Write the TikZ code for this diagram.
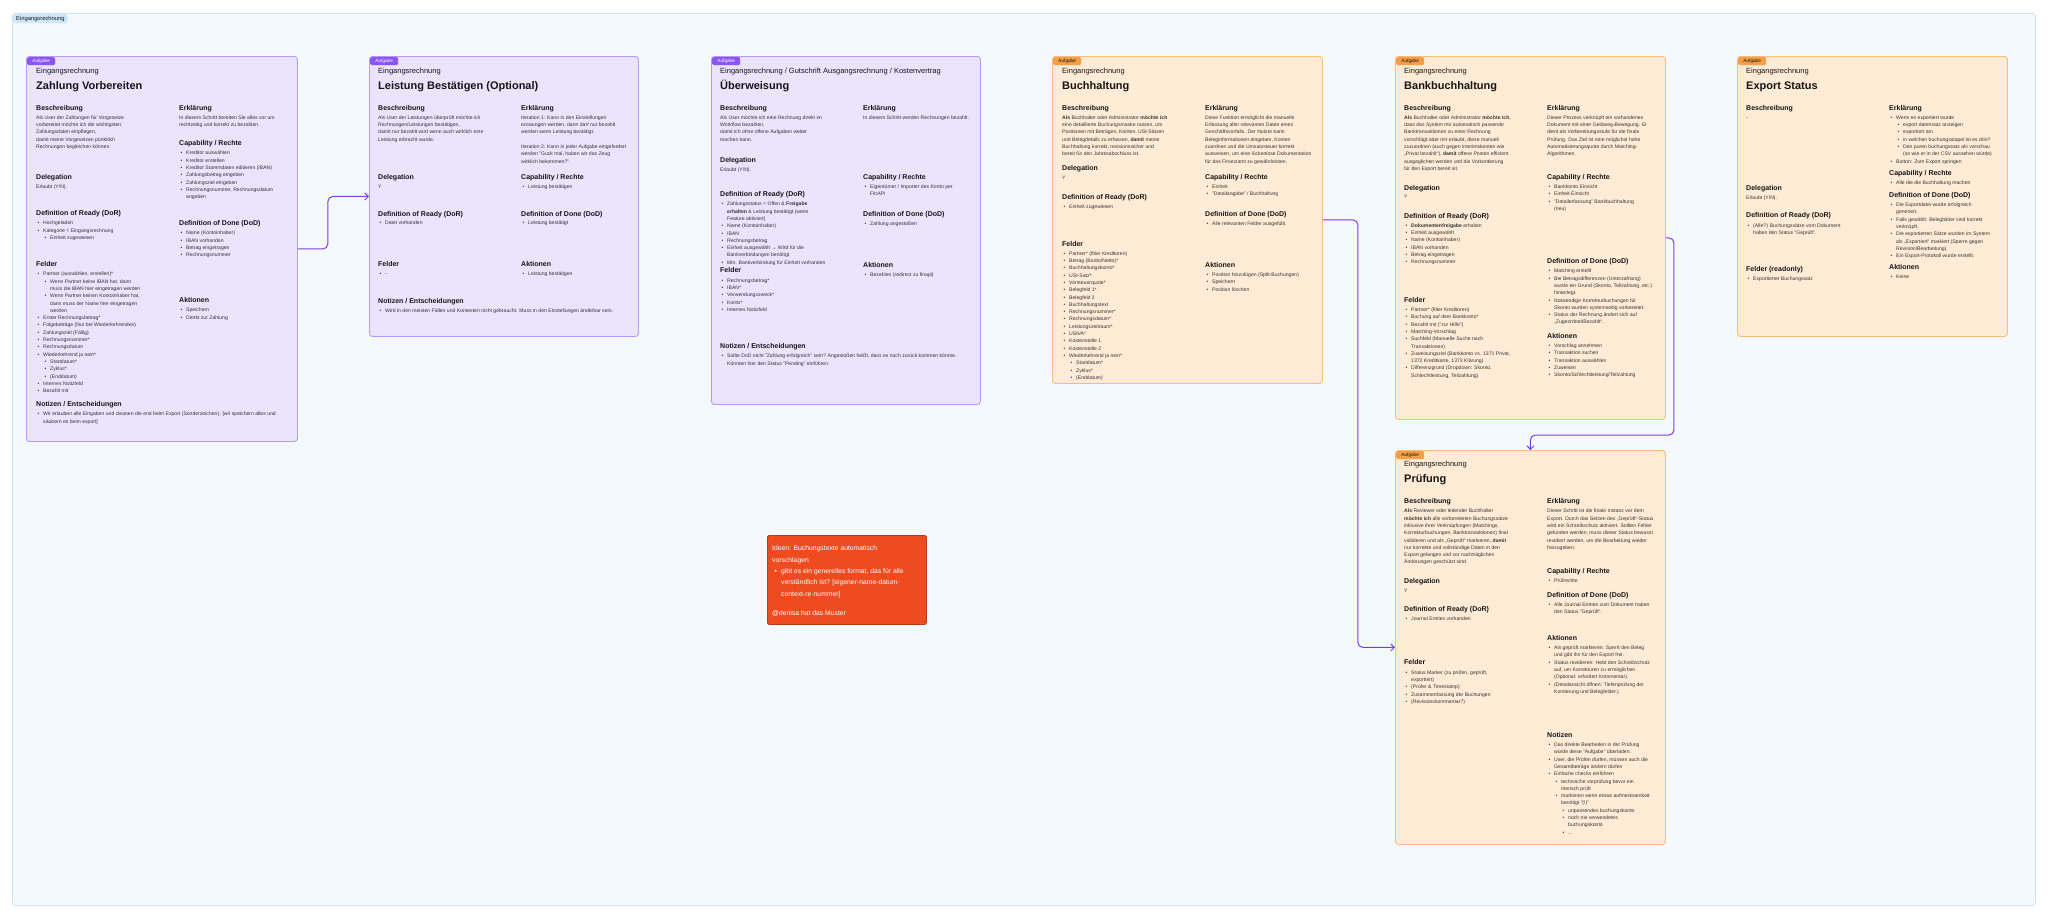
\documentclass[tikz,border=0pt]{standalone}
\usepackage{fontspec}
\setmainfont{Liberation Sans}
\usetikzlibrary{arrows.meta}
\definecolor{frameF}{HTML}{F3F9FD}
\definecolor{frameD}{HTML}{C9E5F3}
\definecolor{tagB}{HTML}{CDE8FA}
\definecolor{pF}{HTML}{EAE4FE}
\definecolor{pD}{HTML}{B699F7}
\definecolor{pT}{HTML}{8B55F3}
\definecolor{oF}{HTML}{FFEBD6}
\definecolor{oD}{HTML}{F8BD7C}
\definecolor{oT}{HTML}{F59E45}
\definecolor{connc}{HTML}{7A3CF0}
\definecolor{redF}{HTML}{EF4B21}
\definecolor{redD}{HTML}{B63A1E}
\definecolor{txt}{HTML}{333333}
\definecolor{hdc}{HTML}{151515}
\newcommand\Bi{\makebox[7pt][l]{\hspace*{1.5pt}\textbullet}}
\newcommand\Bc{\hspace*{7pt}}
\newcommand\Bii{\hspace*{7pt}\Bi}
\newcommand\Bcc{\hspace*{14pt}}
\newcommand\Biii{\hspace*{14pt}\Bi}
\newcommand\Bccc{\hspace*{21pt}}
\newcommand\Ni{\makebox[9pt][l]{\hspace*{2.5pt}\textbullet}}
\newcommand\Nc{\hspace*{9pt}}
\newcommand\Hd[4]{\node[hd] (#1) at (#2,#3) {#4};}
\newcommand\Bd[4]{\node[bd] (#1) at (#2,#3) {\strut#4};}
\tikzset{
  hd/.style={anchor=base west, yshift=-2.5pt, inner sep=0pt, font=\fontsize{7}{8}\selectfont\bfseries, text=hdc},
  bd/.style={anchor=north west, yshift=3.8pt, inner sep=0pt, align=left, font=\fontsize{5.1}{7.3}\selectfont, text=txt},
  sub/.style={anchor=base west, yshift=-2.6pt, inner sep=0pt, font=\fontsize{7.5}{8}\selectfont, text=hdc},
  ttl/.style={anchor=base west, yshift=-4pt, inner sep=0pt, font=\fontsize{11}{12}\selectfont\bfseries, text=hdc},
  pcard/.style={anchor=north west, draw=pD, fill=pF, line width=0.9pt, rounded corners=3pt, inner sep=0pt},
  ocard/.style={anchor=north west, draw=oD, fill=oF, line width=0.9pt, rounded corners=3pt, inner sep=0pt},
  ptag/.style={anchor=north west, fill=pT, text=white, rounded corners=1.5pt, minimum width=28pt, minimum height=8pt, inner sep=0pt, font=\fontsize{4.7}{5}\selectfont},
  otag/.style={anchor=north west, fill=oT, text=hdc, rounded corners=1.5pt, minimum width=28pt, minimum height=8pt, inner sep=0pt, font=\fontsize{4.7}{5}\selectfont},
  conn/.style={draw=connc, line width=1pt, rounded corners=5pt, -{Straight Barb[length=3.5pt,width=7pt]}}
}
\begin{document}
\begin{tikzpicture}[x=1pt,y=-1pt]
\useasboundingbox (0,0) rectangle (2048,918);
\fill[white] (0,0) rectangle (2048,918);
\node[anchor=north west, draw=frameD, fill=frameF, line width=0.8pt, rounded corners=3pt, minimum width=2023pt, minimum height=892pt, inner sep=0pt] (fr) at (12,13) {};
\node[anchor=north west, fill=tagB, rounded corners=1.5pt, inner xsep=3pt, inner ysep=1.8pt, font=\fontsize{5.8}{6}\selectfont, text=hdc] (frt) at (13,14) {Eingangsrechnung};

% ---------- Card 1
\node[pcard, minimum width=271pt, minimum height=385pt] (c1) at (26,56) {};
\node[ptag] (c1a) at (27,57) {Aufgabe};
\node[sub] (c1s) at (36,70.7) {Eingangsrechnung};
\node[ttl] (c1t) at (36,85) {Zahlung Vorbereiten};
\Hd{c1h1}{36}{107.7}{Beschreibung}
\Bd{c1b1}{36}{117.7}{Als User der Zahlungen für Vorgesetze\\vorbereitet möchte ich die wichtigsten\\Zahlungsdaten einpflegen,\\damit meine Vorgesetzen pünktlich\\Rechnungen begleichen können.}
\Hd{c1h2}{179}{107.7}{Erklärung}
\Bd{c1b2}{179}{117.7}{In diesem Schritt bereiten Sie alles vor um\\rechtzeitig und korrekt zu bezahlen.}
\Hd{c1h3}{179}{143.3}{Capability / Rechte}
\Bd{c1b3}{179}{153.3}{\Bi Kreditor auswählen\\\Bi Kreditor erstellen\\\Bi Kreditor Stammdaten editieren (IBAN)\\\Bi Zahlungsbetrag eingeben\\\Bi Zahlungsziel eingeben\\\Bi Rechnungsnummer, Rechnungsdatum\\\Bc angeben}
\Hd{c1h4}{36}{177.3}{Delegation}
\Bd{c1b4}{36}{186.7}{Erlaubt (Y/N).}
\Hd{c1h5}{36}{213.3}{Definition of Ready (DoR)}
\Bd{c1b5}{36}{223.3}{\Bi Hochgeladen\\\Bi Kategorie = Eingangsrechnung\\\Bii Einheit zugewiesen}
\Hd{c1h6}{179}{223.3}{Definition of Done (DoD)}
\Bd{c1b6}{179}{233.3}{\Bi Name (Kontoinhaber)\\\Bi IBAN vorhanden\\\Bi Betrag eingetragen\\\Bi Rechnungsnummer}
\Hd{c1h7}{36}{264.3}{Felder}
\Bd{c1b7}{36}{274.3}{\Bi Partner (auswählen, erstellen)*\\\Bii Wenn Partner keine IBAN hat, dann\\\Bcc muss die IBAN hier eingetragen werden\\\Bii Wenn Partner keinen Kontoinhaber hat,\\\Bcc dann muss der Name hier eingetragen\\\Bcc werden\\\Bi Erster Rechnungsbetrag*\\\Bi Folgebeträge (Nur bei Wiederkehrenden)\\\Bi Zahlungsziel (Fällig)\\\Bi Rechnungsnummer*\\\Bi Rechnungsdatum\\\Bi Wiederkehrend ja nein*\\\Bii Startdatum*\\\Bii Zyklus*\\\Bii (Enddatum)\\\Bi Internes Notizfeld\\\Bi Bezahlt mit}
\Hd{c1h8}{179}{300.3}{Aktionen}
\Bd{c1b8}{179}{310.3}{\Bi Speichern\\\Bi Direkt zur Zahlung}
\Hd{c1h9}{36}{404.3}{Notizen / Entscheidungen}
\Bd{c1b9}{36}{414.3}{\Bi Wir erlauben alle Eingaben und cleanen die erst beim Export (Sonderzeichen). [wir speichern alles und\\\Bc säubern es beim export]}

% ---------- Card 2
\node[pcard, minimum width=269pt, minimum height=280pt] (c2) at (369,56) {};
\node[ptag] (c2a) at (370,57) {Aufgabe};
\node[sub] (c2s) at (378,70.7) {Eingangsrechnung};
\node[ttl] (c2t) at (378,85) {Leistung Bestätigen (Optional)};
\Hd{c2h1}{378}{107.7}{Beschreibung}
\Bd{c2b1}{378}{117.7}{Als User der Leistungen überprüft möchte ich\\Rechnungen/Leistungen bestätigen,\\damit nur bezahlt wird wenn auch wirklich eine\\Leistung erbracht wurde.}
\Hd{c2h2}{521}{107.7}{Erklärung}
\Bd{c2b2}{521}{117.7}{Iteration 1: Kann in den Einstellungen\\erzwungen werden, dann darf nur bezahlt\\werden wenn Leistung bestätigt.\\[7.3pt]Iteration 2: Kann in jeder Aufgabe eingefordert\\werden "Guck mal, haben wir das Zeug\\wirklich bekommen?"}
\Hd{c2h3}{378}{177}{Delegation}
\Bd{c2b3}{378}{186.7}{Y}
\Hd{c2h4}{521}{177}{Capability / Rechte}
\Bd{c2b4}{521}{186.7}{\Bi Leistung bestätigen}
\Hd{c2h5}{378}{213.7}{Definition of Ready (DoR)}
\Bd{c2b5}{378}{223.3}{\Bi Datei vorhanden}
\Hd{c2h6}{521}{213.7}{Definition of Done (DoD)}
\Bd{c2b6}{521}{223.3}{\Bi Leistung bestätigt}
\Hd{c2h7}{378}{264.3}{Felder}
\Bd{c2b7}{378}{274.3}{\Bi -}
\Hd{c2h8}{521}{264.3}{Aktionen}
\Bd{c2b8}{521}{274.3}{\Bi Leistung bestätigen}
\Hd{c2h9}{378}{300.7}{Notizen / Entscheidungen}
\Bd{c2b9}{378}{311}{\Bi Wird in den meisten Fällen und Kontexten nicht gebraucht. Muss in den Einstellungen änderbar sein.}

% ---------- Card 3
\node[pcard, minimum width=269pt, minimum height=348pt] (c3) at (711,56) {};
\node[ptag] (c3a) at (712,57) {Aufgabe};
\node[sub] (c3s) at (720,70.7) {Eingangsrechnung / Gutschrift Ausgangsrechnung / Kostenvertrag};
\node[ttl] (c3t) at (720,85) {Überweisung};
\Hd{c3h1}{720}{107.7}{Beschreibung}
\Bd{c3b1}{720}{117.7}{Als User möchte ich eine Rechnung direkt im\\Workflow bezahlen,\\damit ich ohne offene Aufgaben weiter\\machen kann.}
\Hd{c3h2}{863}{107.7}{Erklärung}
\Bd{c3b2}{863}{117.7}{In diesem Schritt werden Rechnungen bezahlt.}
\Hd{c3h3}{720}{160}{Delegation}
\Bd{c3b3}{720}{170}{Erlaubt (Y/N).}
\Hd{c3h4}{863}{177.3}{Capability / Rechte}
\Bd{c3b4}{863}{187}{\Bi Eigentümer / Importer des Konto per\\\Bc FinAPI}
\Hd{c3h5}{720}{194}{Definition of Ready (DoR)}
\Bd{c3b5}{720}{204.3}{\Bi Zahlungsstatus = Offen \& \textbf{Freigabe}\\\Bc\textbf{erhalten} \& Leistung bestätigt (wenn\\\Bc Feature aktiviert)\\\Bi Name (Kontoinhaber)\\\Bi IBAN\\\Bi Rechnungsbetrag\\\Bi Einheit ausgewählt → Wird für die\\\Bc Bankverbindungen benötigt\\\Bi Min. Bankverbindung für Einheit vorhanden}
\Hd{c3h6}{863}{213.7}{Definition of Done (DoD)}
\Bd{c3b6}{863}{223.7}{\Bi Zahlung angestoßen}
\Hd{c3h7}{720}{270.3}{Felder}
\Bd{c3b7}{720}{280.7}{\Bi Rechnungsbetrag*\\\Bi IBAN*\\\Bi Verwendungszweck*\\\Bi Konto*\\\Bi Internes Notizfeld}
\Hd{c3h8}{863}{264.7}{Aktionen}
\Bd{c3b8}{863}{275}{\Bi Bezahlen (redirect zu finapi)}
\Hd{c3h9}{720}{345.7}{Notizen / Entscheidungen}
\Bd{c3b9}{720}{356.3}{\Bi Sollte DoD nicht "Zahlung erfolgreich" sein? Angestoßen heißt, dass es noch zurück kommen könnte.\\\Bc Könnten hier den Status "Pending" einführen.}

% ---------- Card 4
\node[ocard, minimum width=270pt, minimum height=327pt] (c4) at (1052,56) {};
\node[otag] (c4a) at (1053,57) {Aufgabe};
\node[sub] (c4s) at (1062,70.7) {Eingangsrechnung};
\node[ttl] (c4t) at (1062,85) {Buchhaltung};
\Hd{c4h1}{1062}{107.7}{Beschreibung}
\Bd{c4b1}{1062}{117.7}{\textbf{Als} Buchhalter oder Administrator \textbf{möchte ich}\\eine detaillierte Buchungsmaske nutzen, um\\Positionen mit Beträgen, Konten, USt-Sätzen\\und Belegdetails zu erfassen, \textbf{damit} meine\\Buchhaltung korrekt, revisionssicher und\\bereit für den Jahresabschluss ist.}
\Hd{c4h2}{1205}{107.7}{Erklärung}
\Bd{c4b2}{1205}{117.7}{Diese Funktion ermöglicht die manuelle\\Erfassung aller relevanten Daten eines\\Geschäftsvorfalls. Der Nutzer kann\\Beleginformationen eingeben, Konten\\zuordnen und die Umsatzsteuer korrekt\\ausweisen, um eine lückenlose Dokumentation\\für das Finanzamt zu gewährleisten.}
\Hd{c4h3}{1062}{168.3}{Delegation}
\Bd{c4b3}{1062}{178.3}{Y}
\Hd{c4h4}{1205}{177}{Capability / Rechte}
\Bd{c4b4}{1205}{187}{\Bi Einheit\\\Bi "Detailangabe" / Buchhaltung}
\Hd{c4h5}{1062}{196.7}{Definition of Ready (DoR)}
\Bd{c4b5}{1062}{206.7}{\Bi Einheit zugewiesen}
\Hd{c4h6}{1205}{213.7}{Definition of Done (DoD)}
\Bd{c4b6}{1205}{223.7}{\Bi Alle relevanten Felder ausgefüllt.}
\Hd{c4h7}{1062}{244.3}{Felder}
\Bd{c4b7}{1062}{253.7}{\Bi Partner* (filter Kreditoren)\\\Bi Betrag (Brutto/Netto)*\\\Bi Buchhaltungskonto*\\\Bi USt-Satz*\\\Bi Vorsteuerquote*\\\Bi Belegfeld 1*\\\Bi Belegfeld 2\\\Bi Buchhaltungstext\\\Bi Rechnungsnummer*\\\Bi Rechnungsdatum*\\\Bi Leistungszeitraum*\\\Bi UStVA*\\\Bi Kostenstelle 1\\\Bi Kostenstelle 2\\\Bi Wiederkehrend ja nein*\\\Bii Startdatum*\\\Bii Zyklus*\\\Bii (Enddatum)}
\Hd{c4h8}{1205}{264.7}{Aktionen}
\Bd{c4b8}{1205}{275}{\Bi Position hinzufügen (Split-Buchungen)\\\Bi Speichern\\\Bi Position löschen}

% ---------- Card 5
\node[ocard, minimum width=270pt, minimum height=363pt] (c5) at (1395,56) {};
\node[otag] (c5a) at (1396,57) {Aufgabe};
\node[sub] (c5s) at (1404,70.7) {Eingangsrechnung};
\node[ttl] (c5t) at (1404,85) {Bankbuchhaltung};
\Hd{c5h1}{1404}{107.7}{Beschreibung}
\Bd{c5b1}{1404}{117.7}{\textbf{Als} Buchhalter oder Administrator \textbf{möchte ich},\\dass das System mir automatisch passende\\Banktransaktionen zu einer Rechnung\\vorschlägt oder mir erlaubt, diese manuell\\zuzuordnen (auch gegen Interimskonten wie\\„Privat bezahlt“), \textbf{damit} offene Posten effizient\\ausgeglichen werden und die Vorkontierung\\für den Export bereit ist.}
\Hd{c5h2}{1547}{107.7}{Erklärung}
\Bd{c5b2}{1547}{117.7}{Dieser Prozess verknüpft ein vorhandenes\\Dokument mit einer Geldweg-Bewegung. Er\\dient als Vorbereitungsstufe für die finale\\Prüfung. Das Ziel ist eine möglichst hohe\\Automatisierungsquote durch Matching-\\Algorithmen.}
\Hd{c5h3}{1404}{187.7}{Delegation}
\Bd{c5b3}{1404}{197.3}{Y}
\Hd{c5h4}{1547}{177}{Capability / Rechte}
\Bd{c5b4}{1547}{187}{\Bi Bankkonto Einsicht\\\Bi Einheit Einsicht\\\Bi "Detailerfassung" Bankbuchhaltung\\\Bc (neu)}
\Hd{c5h5}{1404}{215.7}{Definition of Ready (DoR)}
\Bd{c5b5}{1404}{225.7}{\Bi \textbf{Dokumentenfreigabe} erhalten\\\Bi Einheit ausgewählt\\\Bi Name (Kontoinhaber)\\\Bi IBAN vorhanden\\\Bi Betrag eingetragen\\\Bi Rechnungsnummer}
\Hd{c5h6}{1547}{261}{Definition of Done (DoD)}
\Bd{c5b6}{1547}{271.3}{\Bi Matching erstellt\\\Bi Bei Betragsdifferenzen (Unterzahlung)\\\Bc wurde ein Grund (Skonto, Teilzahlung, etc.)\\\Bc hinterlegt.\\\Bi Notwendige Korrekturbuchungen für\\\Bc Skonto wurden systemseitig vorbereitet.\\\Bi Status der Rechnung ändert sich auf\\\Bc „Zugeordnet/Bezahlt“.}
\Hd{c5h7}{1404}{299.7}{Felder}
\Bd{c5b7}{1404}{310}{\Bi Partner* (filter Kreditoren)\\\Bi Buchung auf dem Bankkonto*\\\Bi Bezahlt mit ("zur Hilfe")\\\Bi Matching-Vorschlag\\\Bi Suchfeld (Manuelle Suche nach\\\Bc Transaktionen)\\\Bi Zuweisungsziel (Bankkonto vs. 1371 Privat,\\\Bc 1372 Kreditkarte, 1373 Klärung)\\\Bi Differenzgrund (Dropdown: Skonto,\\\Bc Schlechtleistung, Teilzahlung)}
\Hd{c5h8}{1547}{335.7}{Aktionen}
\Bd{c5b8}{1547}{346}{\Bi Vorschlag annehmen\\\Bi Transaktion suchen\\\Bi Transaktion auswählen\\\Bi Zuweisen\\\Bi Skonto/Schlechtleistung/Teilzahlung}

% ---------- Card 6
\node[ocard, minimum width=270pt, minimum height=280pt] (c6) at (1737,56) {};
\node[otag] (c6a) at (1738,57) {Aufgabe};
\node[sub] (c6s) at (1746,70.7) {Eingangsrechnung};
\node[ttl] (c6t) at (1746,85) {Export Status};
\Hd{c6h1}{1746}{107.7}{Beschreibung}
\Bd{c6b1}{1746}{117.7}{-}
\Hd{c6h2}{1889}{107.7}{Erklärung}
\Bd{c6b2}{1889}{117.7}{\Bi Wenn es exportiert wurde\\\Bii export datensatz anzeigen\\\Bii exportiert am\\\Bii in welchen buchungsstapel ist es drin?\\\Bii Den puren buchungssatz als vorschau\\\Bcc (so wie er in der CSV aussehen würde)\\\Bi Button: Zum Export springen}
\Hd{c6h3}{1889}{173}{Capability / Rechte}
\Bd{c6b3}{1889}{183}{\Bi Alle die die Buchhaltung machen}
\Hd{c6h4}{1889}{194.7}{Definition of Done (DoD)}
\Bd{c6b4}{1889}{205}{\Bi Die Exportdatei wurde erfolgreich\\\Bc generiert.\\\Bi Falls gewählt: Belegbilder sind korrekt\\\Bc verknüpft.\\\Bi Die exportierten Sätze wurden im System\\\Bc als „Exportiert“ markiert (Sperre gegen\\\Bc Revision/Bearbeitung).\\\Bi Ein Export-Protokoll wurde erstellt.}
\Hd{c6h5}{1889}{267}{Aktionen}
\Bd{c6b5}{1889}{277}{\Bi Keine}
\Hd{c6h6}{1746}{187.7}{Delegation}
\Bd{c6b6}{1746}{197.7}{Erlaubt (Y/N).}
\Hd{c6h7}{1746}{215.3}{Definition of Ready (DoR)}
\Bd{c6b7}{1746}{225.7}{\Bi (Alle?) Buchungssätze vom Dokument\\\Bc haben den Status "Geprüft".}
\Hd{c6h8}{1746}{269}{Felder (readonly)}
\Bd{c6b8}{1746}{279}{\Bi Exportierter Buchungssatz}

% ---------- Card 7
\node[ocard, minimum width=270pt, minimum height=394pt] (c7) at (1395,450) {};
\node[otag] (c7a) at (1396,451) {Aufgabe};
\node[sub] (c7s) at (1404,464) {Eingangsrechnung};
\node[ttl] (c7t) at (1404,478.3) {Prüfung};
\Hd{c7h1}{1404}{501}{Beschreibung}
\Bd{c7b1}{1404}{511.3}{\textbf{Als} Reviewer oder leitender Buchhalter\\\textbf{möchte ich} alle vorbereiteten Buchungssätze\\inklusive ihrer Verknüpfungen (Matchings,\\Korrekturbuchungen, Banktransaktionen) final\\validieren und als „Geprüft“ markieren, \textbf{damit}\\nur korrekte und vollständige Daten in den\\Export gelangen und vor nachträglichen\\Änderungen geschützt sind.}
\Hd{c7h2}{1547}{501}{Erklärung}
\Bd{c7b2}{1547}{511.3}{Dieser Schritt ist die finale Instanz vor dem\\Export. Durch das Setzen des „Geprüft“-Status\\wird ein Schreibschutz aktiviert. Sollten Fehler\\gefunden werden, muss dieser Status bewusst\\revidiert werden, um die Bearbeitung wieder\\freizugeben.}
\Hd{c7h3}{1404}{581.3}{Delegation}
\Bd{c7b3}{1404}{591}{Y}
\Hd{c7h4}{1547}{570.7}{Capability / Rechte}
\Bd{c7b4}{1547}{580.7}{\Bi Prüfrechte}
\Hd{c7h5}{1404}{609}{Definition of Ready (DoR)}
\Bd{c7b5}{1404}{619}{\Bi Journal Entries vorhanden}
\Hd{c7h6}{1547}{594.7}{Definition of Done (DoD)}
\Bd{c7b6}{1547}{604.7}{\Bi Alle Journal Entries zum Dokument haben\\\Bc den Status "Geprüft".}
\Hd{c7h7}{1547}{638}{Aktionen}
\Bd{c7b7}{1547}{648}{\Bi Als geprüft markieren: Sperrt den Beleg\\\Bc und gibt ihn für den Export frei.\\\Bi Status revidieren: Hebt den Schreibschutz\\\Bc auf, um Korrekturen zu ermöglichen\\\Bc (Optional: erfordert Kommentar).\\\Bi (Detailansicht öffnen: Tiefenprüfung der\\\Bc Kontierung und Belegfelder.)}
\Hd{c7h8}{1404}{662.3}{Felder}
\Bd{c7b8}{1404}{672.7}{\Bi Status Marker (zu prüfen, geprüft,\\\Bc exportiert)\\\Bi (Prüfer \& Timestamp)\\\Bi Zusammenfassung der Buchungen\\\Bi (Revisionskommentar?)}
\Hd{c7h9}{1547}{734.7}{Notizen}
\Bd{c7b9}{1547}{745}{\Bi Das direkte Bearbeiten in der Prüfung\\\Bc würde diese "Aufgabe" überladen.\\\Bi User, die Prüfen dürfen, müssen auch die\\\Bc Gesamtbeträge ändern dürfen\\\Bi Einfache checks einführen\\\Bii technische vorprüfung bevor ein\\\Bcc mensch prüft\\\Bii markieren wenn etwas aufmerksamkeit\\\Bcc benötigt "(!)"\\\Biii unpassendes buchungskonto\\\Biii noch nie verwendetes\\\Bccc buchungskonto\\\Biii ...}

% ---------- Red note
\node[anchor=north west, fill=redF, draw=redD, line width=0.8pt, rounded corners=1.5pt, minimum width=159pt, minimum height=89pt, inner sep=0pt] (n1) at (767,535) {};
\node[anchor=north west, inner sep=0pt, align=left, text=white, font=\fontsize{6.8}{11.4}\selectfont] (n1t) at (772,542.5) {\strut Ideen: Buchungstexte automatisch\\vorschlagen\\\Ni gibt es ein generelles format, das für alle\\\Nc verständlich ist? [eigener-name-datum-\\\Nc context-re-nummer]\\[7.6pt]@denisa hat das Muster};

% ---------- Connectors
\draw[conn] (c1.east) -- ++(30,0) |- (c2.west);
\draw[conn] (c4.east) -- ++(35,0) |- (c7.west);
\draw[conn] (c5.east) -- ++(8,0) |- ([yshift=15pt]c7.north) -- (c7.north);
\end{tikzpicture}
\end{document}
